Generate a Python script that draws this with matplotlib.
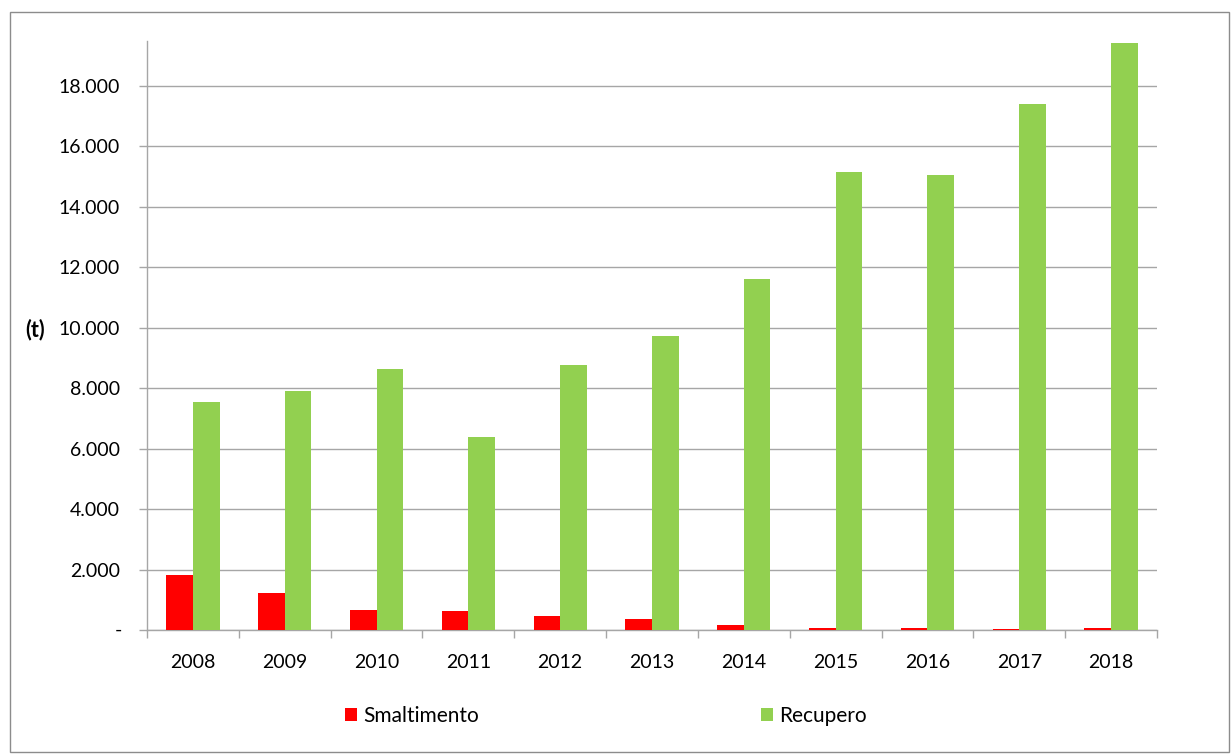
import matplotlib
matplotlib.use("Agg")
import matplotlib.pyplot as plt
from matplotlib.patches import Rectangle, Patch
from matplotlib.ticker import FixedLocator
import numpy as np

plt.rcParams['font.family'] = ['Lato', 'DejaVu Sans']

years = ["2008", "2009", "2010", "2011", "2012", "2013", "2014", "2015", "2016", "2017", "2018"]
smaltimento = [1830, 1225, 670, 640, 465, 375, 165, 75, 55, 20, 60]
recupero = [7530, 7890, 8620, 6370, 8750, 9740, 11600, 15140, 15040, 17400, 19410]
ytick_values = [0, 2000, 4000, 6000, 8000, 10000, 12000, 14000, 16000, 18000]
ytick_labels = ["", "2.000", "4.000", "6.000", "8.000", "10.000", "12.000", "14.000", "16.000", "18.000"]
series_names = ["Smaltimento", "Recupero"]
colors = ["#FF0000", "#92D050"]

W, H = 1231, 754
fig = plt.figure(figsize=(W / 100, H / 100), dpi=100)

# outer frame
fig.patches.append(Rectangle((10 / W, 2 / H), 1219 / W, (742 - 2) / H,
                             transform=fig.transFigure, fill=False,
                             edgecolor="#8c8c8c", linewidth=1.0))

ax = fig.add_axes([147 / W, (H - 630) / H, (1157 - 147) / W, (630 - 41) / H])

x = np.arange(len(years))
w = 0.29
ax.bar(x - w / 2, smaltimento, width=w, color=colors[0], zorder=3)
ax.bar(x + w / 2, recupero, width=w, color=colors[1], zorder=3)

ax.set_xlim(-0.5, len(years) - 0.5)
ax.set_ylim(0, 19480)

gray = "#a6a6a6"
ax.set_yticks(ytick_values)
ax.set_yticklabels(ytick_labels)
ax.yaxis.grid(True, color=gray, linewidth=1.0, zorder=0)
ax.set_axisbelow(True)

ax.set_xticks(x)
ax.set_xticklabels(years)
ax.xaxis.set_minor_locator(FixedLocator(np.arange(-0.5, len(years), 1.0)))
ax.tick_params(axis='x', which='major', length=0, pad=17, labelsize=14)
ax.tick_params(axis='x', which='minor', length=6, color=gray, width=1)
ax.tick_params(axis='y', which='major', length=6, color=gray, width=1,
               pad=13.5, labelsize=14)

for s in ['top', 'right']:
    ax.spines[s].set_visible(False)
for s in ['left', 'bottom']:
    ax.spines[s].set_color(gray)
    ax.spines[s].set_linewidth(1.0)

# zero label shown as dash (accounting format)
ax.text((118 - 147) / 1010, 0, "-", transform=ax.get_yaxis_transform(),
        ha='center', va='center', fontsize=14)

fig.text(35 / W, (H - 330) / H, "(t)", fontsize=15.5, fontweight='bold',
         ha='center', va='center')

handles = [Patch(facecolor=c, edgecolor='none') for c in colors]
fig.legend(handles, series_names, loc='center', bbox_to_anchor=(606 / W, (H - 716) / H),
           ncol=2, frameon=False, fontsize=15, handlelength=0.6, handleheight=0.6,
           handletextpad=0.3, columnspacing=13.5)

fig.savefig("out.png", dpi=100)
